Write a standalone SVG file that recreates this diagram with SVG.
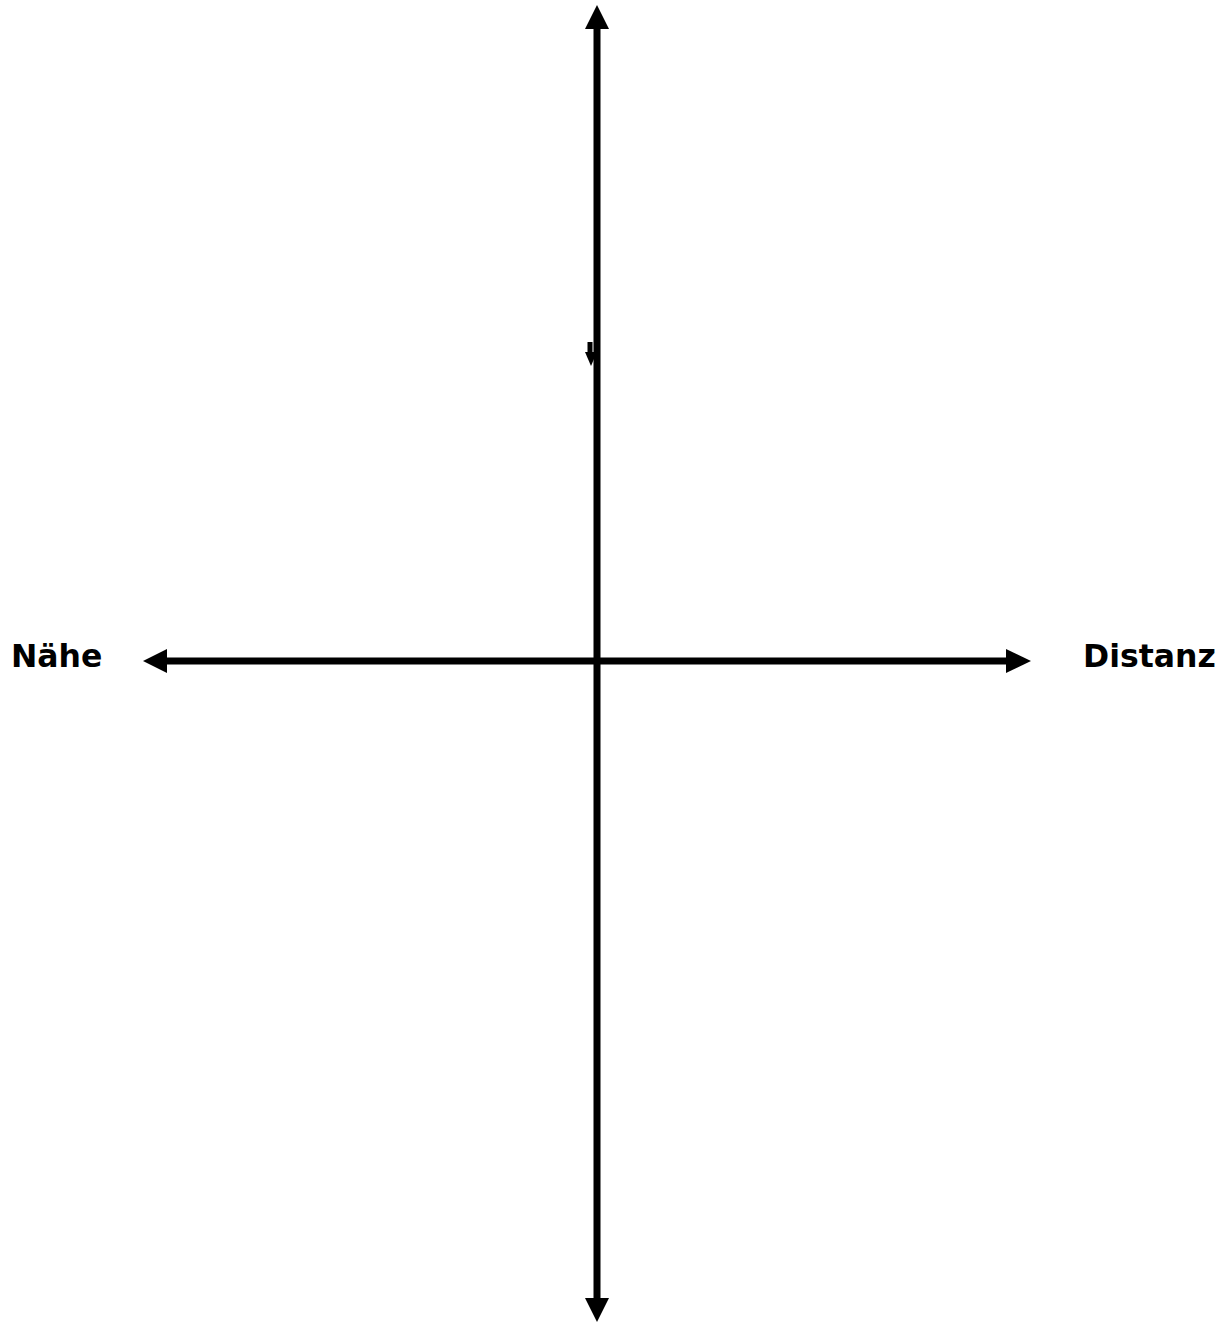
<svg xmlns="http://www.w3.org/2000/svg" width="1229" height="1322" viewBox="0 0 1229 1322">
<style>
.ax{stroke:#000;stroke-width:7;fill:none}
.hd{fill:#000}
.lb{font-family:"DejaVu Sans",Verdana,sans-serif;font-weight:bold;font-size:31.5px;fill:#000}
</style>
<rect width="1229" height="1322" fill="#fff"/>
<g id="connectors">
<line class="ax" x1="597" y1="26" x2="597" y2="1300"/>
<polygon class="hd" points="597,5 609,29 585,29"/>
<polygon class="hd" points="597,1322 609,1298 585,1298"/>
<line class="ax" x1="165" y1="661" x2="1008" y2="661"/>
<polygon class="hd" points="143,661 167,649 167,673"/>
<polygon class="hd" points="1031,661 1006,649 1006,673"/>
<line x1="590" y1="342" x2="590" y2="356" stroke="#000" stroke-width="5"/>
<polygon class="hd" points="591,366 597,352 585,352"/>
</g>
<g id="node-naehe"><text class="lb" x="11" y="667">Nähe</text></g>
<g id="node-distanz"><text class="lb" x="1083" y="667">Distanz</text></g>
</svg>
